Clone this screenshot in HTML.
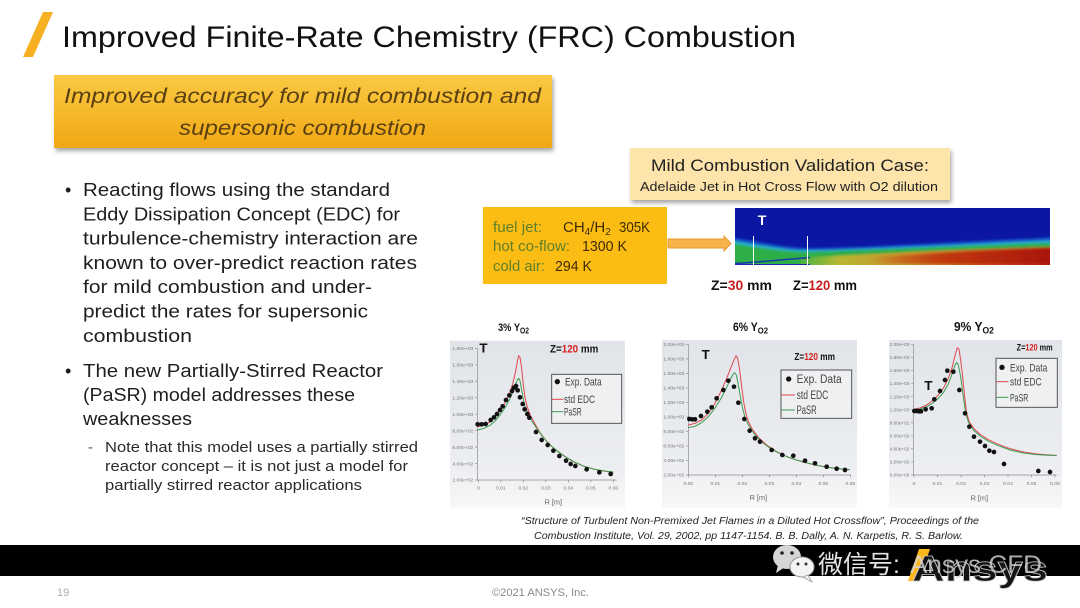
<!DOCTYPE html>
<html><head><meta charset="utf-8">
<style>html,body{margin:0;padding:0;background:#fff;width:1080px;height:608px;overflow:hidden}svg{display:block}</style>
</head><body>
<svg width="1080" height="608" viewBox="0 0 1080 608" xmlns="http://www.w3.org/2000/svg" font-family="'Liberation Sans', sans-serif">
<defs>
  <linearGradient id="gold" x1="0" y1="0" x2="0" y2="1">
    <stop offset="0" stop-color="#fac943"/><stop offset="0.5" stop-color="#f6b92c"/><stop offset="1" stop-color="#f0a713"/>
  </linearGradient>
  <linearGradient id="cbg" x1="0" y1="0" x2="0" y2="1">
    <stop offset="0" stop-color="#e1e4e9"/><stop offset="0.75" stop-color="#eceef1"/><stop offset="1" stop-color="#f8f8f9"/>
  </linearGradient>
  <linearGradient id="core" x1="0" y1="0" x2="1" y2="0">
    <stop offset="0" stop-color="#a8c030" stop-opacity="0.2"/><stop offset="0.15" stop-color="#b8b834"/><stop offset="0.45" stop-color="#cc8c28"/><stop offset="0.75" stop-color="#c85018"/><stop offset="1" stop-color="#b81e0c"/>
  </linearGradient>
  <linearGradient id="red" x1="0" y1="0" x2="1" y2="0">
    <stop offset="0" stop-color="#c03010" stop-opacity="0"/><stop offset="0.4" stop-color="#c0380e"/><stop offset="1" stop-color="#a8140a"/>
  </linearGradient>
  <filter id="sh" x="-5%" y="-10%" width="110%" height="130%">
    <feDropShadow dx="1.5" dy="3" stdDeviation="2" flood-color="#000" flood-opacity="0.35"/>
  </filter>
  <filter id="bl" x="-5%" y="-20%" width="110%" height="140%">
    <feGaussianBlur stdDeviation="1"/>
  </filter>
  <clipPath id="cc"><rect x="735" y="208" width="315" height="57"/></clipPath>
</defs>

<!-- Title -->
<polygon points="43,12 53,12 33,57 23,57" fill="#f6b021"/>
<text x="62" y="47" font-size="30" textLength="734" lengthAdjust="spacingAndGlyphs" fill="#111">Improved Finite-Rate Chemistry (FRC) Combustion</text>

<!-- Orange box -->
<rect x="54" y="75" width="498" height="73" fill="url(#gold)" filter="url(#sh)"/>
<text x="64" y="103" font-size="21" font-style="italic" textLength="477" lengthAdjust="spacingAndGlyphs" fill="#5a4012">Improved accuracy for mild combustion and</text>
<text x="179" y="135" font-size="21" font-style="italic" textLength="247" lengthAdjust="spacingAndGlyphs" fill="#5a4012">supersonic combustion</text>

<!-- Bullets -->
<g font-size="18" fill="#1e1e1e">
  <text x="65" y="196">•</text>
  <text x="83" y="196" textLength="307" lengthAdjust="spacingAndGlyphs">Reacting flows using the standard</text>
  <text x="83" y="220.3" textLength="317" lengthAdjust="spacingAndGlyphs">Eddy Dissipation Concept (EDC) for</text>
  <text x="83" y="244.6" textLength="335" lengthAdjust="spacingAndGlyphs">turbulence-chemistry interaction are</text>
  <text x="83" y="268.9" textLength="334" lengthAdjust="spacingAndGlyphs">known to over-predict reaction rates</text>
  <text x="83" y="293.2" textLength="289" lengthAdjust="spacingAndGlyphs">for mild combustion and under-</text>
  <text x="83" y="317.5" textLength="285" lengthAdjust="spacingAndGlyphs">predict the rates for supersonic</text>
  <text x="83" y="341.8" textLength="109" lengthAdjust="spacingAndGlyphs">combustion</text>
  <text x="65" y="377">•</text>
  <text x="83" y="377" textLength="300" lengthAdjust="spacingAndGlyphs">The new Partially-Stirred Reactor</text>
  <text x="83" y="401" textLength="272" lengthAdjust="spacingAndGlyphs">(PaSR) model addresses these</text>
  <text x="83" y="425" textLength="109" lengthAdjust="spacingAndGlyphs">weaknesses</text>
</g>
<g font-size="14.5" fill="#2a2a2a">
  <text x="88" y="452" fill="#555">-</text>
  <text x="105" y="452" textLength="313" lengthAdjust="spacingAndGlyphs">Note that this model uses a partially stirred</text>
  <text x="105" y="471" textLength="303" lengthAdjust="spacingAndGlyphs">reactor concept – it is not just a model for</text>
  <text x="105" y="490" textLength="257" lengthAdjust="spacingAndGlyphs">partially stirred reactor applications</text>
</g>

<!-- Validation box -->
<rect x="630" y="148" width="320" height="52" fill="#fde4ab" filter="url(#sh)"/>
<text x="790" y="171" font-size="16.5" text-anchor="middle" textLength="278" lengthAdjust="spacingAndGlyphs" fill="#222">Mild Combustion Validation Case:</text>
<text x="789" y="191" font-size="12.5" text-anchor="middle" textLength="298" lengthAdjust="spacingAndGlyphs" fill="#222">Adelaide Jet in Hot Cross Flow with O2 dilution</text>

<!-- Fuel box -->
<rect x="483" y="207" width="184" height="77" fill="#fbbd14"/>
<g font-size="15">
  <text x="493" y="232" fill="#5e7f2a" textLength="49" lengthAdjust="spacingAndGlyphs">fuel jet:</text>
  <text x="563" y="232" fill="#3f2c07">CH<tspan font-size="10" dy="3">4</tspan><tspan dy="-3">/H</tspan><tspan font-size="10" dy="3">2</tspan></text>
  <text x="619" y="232" fill="#3f2c07" textLength="31" lengthAdjust="spacingAndGlyphs">305K</text>
  <text x="493" y="251" fill="#5e7f2a" textLength="77" lengthAdjust="spacingAndGlyphs">hot co-flow:</text>
  <text x="582" y="251" fill="#3f2c07" textLength="45" lengthAdjust="spacingAndGlyphs">1300 K</text>
  <text x="493" y="271" fill="#5e7f2a" textLength="52" lengthAdjust="spacingAndGlyphs">cold air:</text>
  <text x="555" y="271" fill="#3f2c07" textLength="37" lengthAdjust="spacingAndGlyphs">294 K</text>
</g>

<!-- Arrow -->
<path d="M668,239 L724,239 L724,236 L731,243.5 L724,251 L724,248 L668,248 Z" fill="#f7b44c" stroke="#e59a2c" stroke-width="1"/>

<!-- Contour -->
<rect x="735" y="208" width="315" height="57" fill="#0b16a2"/>
<g clip-path="url(#cc)">
  <g filter="url(#bl)">
    <path d="M730,237 C760,242 785,247 805,248 C850,248 950,242 1055,237 L1055,270 L730,270 Z" fill="#1a60d0" opacity="0.8"/>
    <path d="M730,240 C760,245 785,250 805,250 C850,250 950,245 1055,240 L1055,270 L730,270 Z" fill="#28b0c8"/>
    <path d="M730,243 C760,248 785,252 805,252 C850,251 950,246 1055,243 L1055,270 L730,270 Z" fill="#2eae46"/>
    <path d="M800,258 C850,255 940,250 1055,247 L1055,270 L800,270 Z" fill="url(#core)"/>
    <path d="M870,257 C940,253 1000,250 1055,249 L1055,264 C990,264 930,264 870,263 Z" fill="url(#red)"/>
  </g>
  <path d="M735,263.5 C760,262 790,259 810,257.5" stroke="#1a3aa8" stroke-width="1.5" fill="none"/>
  <rect x="735" y="264" width="75" height="2" fill="#1a2aa8"/>
</g>
<line x1="753.5" y1="236" x2="753.5" y2="265" stroke="#fff" stroke-width="1"/>
<line x1="807.5" y1="236" x2="807.5" y2="265" stroke="#fff" stroke-width="1"/>
<text x="762" y="225" font-size="14" font-weight="bold" fill="#fff" text-anchor="middle">T</text>

<text x="711" y="290" font-size="13.5" font-weight="bold" fill="#111" textLength="61" lengthAdjust="spacingAndGlyphs">Z=<tspan fill="#c81e1e">30</tspan> mm</text>
<text x="793" y="290" font-size="13.5" font-weight="bold" fill="#111" textLength="64" lengthAdjust="spacingAndGlyphs">Z=<tspan fill="#c81e1e">120</tspan> mm</text>

<!-- Chart titles -->
<text x="498" y="331" font-size="11" font-weight="bold" fill="#111" textLength="31" lengthAdjust="spacingAndGlyphs">3% Y<tspan font-size="8" dy="2.5">O2</tspan></text>
<text x="733" y="331" font-size="11.5" font-weight="bold" fill="#111" textLength="35" lengthAdjust="spacingAndGlyphs">6% Y<tspan font-size="8.5" dy="2.5">O2</tspan></text>
<text x="954" y="331" font-size="12.5" font-weight="bold" fill="#111" textLength="40" lengthAdjust="spacingAndGlyphs">9% Y<tspan font-size="9" dy="2.5">O2</tspan></text>

<!-- Chart 1 -->
<g transform="translate(440,310) scale(0.33333)">
  <rect x="30" y="92" width="525" height="503" fill="url(#cbg)"/>
  <path d="M112,115 V510 H530" stroke="#8a8a8a" stroke-width="2" fill="none"/>
  <g stroke="#8a8a8a" stroke-width="2">
    <path d="M105,115H112M105,164.4H112M105,213.8H112M105,263.2H112M105,312.6H112M105,362H112M105,411.4H112M105,460.8H112M105,510H112"/>
    <path d="M115,510V517M182.5,510V517M250,510V517M317.5,510V517M385,510V517M452.5,510V517M520,510V517"/>
  </g>
  <g font-size="15" fill="#777" text-anchor="end">
    <text x="100" y="120">1.80e+03</text><text x="100" y="169.4">1.60e+03</text><text x="100" y="218.8">1.40e+03</text>
    <text x="100" y="268.2">1.20e+03</text><text x="100" y="317.6">1.00e+03</text><text x="100" y="367">8.00e+02</text>
    <text x="100" y="416.4">6.00e+02</text><text x="100" y="465.8">4.00e+02</text><text x="100" y="515">2.00e+02</text>
  </g>
  <g font-size="15" fill="#777" text-anchor="middle">
    <text x="115" y="538">0</text><text x="182.5" y="538">0.01</text><text x="250" y="538">0.02</text><text x="317.5" y="538">0.03</text>
    <text x="385" y="538">0.04</text><text x="452.5" y="538">0.05</text><text x="520" y="538">0.06</text>
    <text x="340" y="584" font-size="22" fill="#666">R [m]</text>
  </g>
  <text x="118" y="128" font-size="40" font-weight="bold" fill="#111">T</text>
  <text x="330" y="127" font-size="32" font-weight="bold" fill="#111" textLength="145" lengthAdjust="spacingAndGlyphs">Z=<tspan fill="#d42020">120</tspan> mm</text>
  <rect x="335" y="193" width="210" height="147" fill="#eef0f2" stroke="#555" stroke-width="3"/>
  <circle cx="352" cy="215" r="8" fill="#111"/>
  <text x="375" y="226" font-size="34" fill="#444" textLength="110" lengthAdjust="spacingAndGlyphs">Exp. Data</text>
  <line x1="335" y1="268" x2="370" y2="268" stroke="#e0464e" stroke-width="3"/>
  <text x="372" y="279" font-size="34" fill="#444" textLength="93" lengthAdjust="spacingAndGlyphs">std EDC</text>
  <line x1="335" y1="305" x2="370" y2="305" stroke="#3c9c52" stroke-width="3"/>
  <text x="372" y="316" font-size="34" fill="#444" textLength="53" lengthAdjust="spacingAndGlyphs">PaSR</text>
  <polyline fill="none" stroke="#e0464e" stroke-width="3" stroke-linejoin="round" points="112,350 130,346 150,336 165,322 180,302 195,278 208,252 218,222 226,188 232,155 236,137 240,142 245,175 250,225 255,262 262,292 272,318 285,342 300,368 320,394 345,418 370,436 400,455 430,468 460,477 490,483 520,487"/>
  <polyline fill="none" stroke="#3c9c52" stroke-width="3" stroke-linejoin="round" points="112,360 130,356 150,346 165,333 180,315 195,293 208,270 218,247 226,225 232,210 236,205 240,212 245,240 250,268 256,292 265,312 275,332 288,352 305,376 325,400 350,422 375,440 405,457 435,470 465,478 495,483 520,486"/>
  <g fill="#111">
    <circle cx="113" cy="343" r="7"/><circle cx="125" cy="343" r="7"/><circle cx="137" cy="342" r="7"/><circle cx="152" cy="330" r="7"/>
    <circle cx="162" cy="322" r="7"/><circle cx="171" cy="312" r="7"/><circle cx="180" cy="300" r="7"/><circle cx="188" cy="289" r="7"/>
    <circle cx="198" cy="270" r="7"/><circle cx="208" cy="256" r="7"/><circle cx="216" cy="243" r="7"/><circle cx="222" cy="233" r="7"/>
    <circle cx="228" cy="228" r="7"/><circle cx="233" cy="241" r="7"/><circle cx="240" cy="262" r="7"/><circle cx="248" cy="282" r="7"/>
    <circle cx="254" cy="298" r="7"/><circle cx="262" cy="312" r="7"/><circle cx="268" cy="323" r="7"/><circle cx="288" cy="366" r="7"/>
    <circle cx="305" cy="390" r="7"/><circle cx="323" cy="405" r="7"/><circle cx="340" cy="422" r="7"/><circle cx="358" cy="438" r="7"/>
    <circle cx="378" cy="452" r="7"/><circle cx="392" cy="462" r="7"/><circle cx="406" cy="468" r="7"/><circle cx="440" cy="478" r="7"/>
    <circle cx="478" cy="487" r="7"/><circle cx="512" cy="492" r="7"/>
  </g>
</g>

<!-- Chart 2 -->
<g transform="translate(655,310) scale(0.33333)">
  <rect x="21" y="90" width="585" height="504" fill="url(#cbg)"/>
  <path d="M100,103 V495 H588" stroke="#8a8a8a" stroke-width="2" fill="none"/>
  <g stroke="#8a8a8a" stroke-width="2">
    <path d="M93,103H100M93,146.6H100M93,190.1H100M93,233.7H100M93,277.2H100M93,320.8H100M93,364.3H100M93,407.9H100M93,451.4H100M93,495H100"/>
    <path d="M100,495V502M181,495V502M262,495V502M343,495V502M424,495V502M505,495V502M586,495V502"/>
  </g>
  <g font-size="15" fill="#777" text-anchor="end">
    <text x="88" y="108">2.00e+03</text><text x="88" y="151.6">1.80e+03</text><text x="88" y="195.1">1.60e+03</text>
    <text x="88" y="238.7">1.40e+03</text><text x="88" y="282.2">1.20e+03</text><text x="88" y="325.8">1.00e+03</text>
    <text x="88" y="369.3">8.00e+02</text><text x="88" y="412.9">6.00e+02</text><text x="88" y="456.4">4.00e+02</text>
    <text x="88" y="500">2.00e+02</text>
  </g>
  <g font-size="15" fill="#777" text-anchor="middle">
    <text x="100" y="525">0.00</text><text x="181" y="525">0.01</text><text x="262" y="525">0.02</text><text x="343" y="525">0.03</text>
    <text x="424" y="525">0.04</text><text x="505" y="525">0.05</text><text x="586" y="525">0.06</text>
    <text x="310" y="570" font-size="22" fill="#666">R [m]</text>
  </g>
  <text x="140" y="147" font-size="40" font-weight="bold" fill="#111">T</text>
  <text x="418" y="150" font-size="30" font-weight="bold" fill="#111" textLength="122" lengthAdjust="spacingAndGlyphs">Z=<tspan fill="#d42020">120</tspan> mm</text>
  <rect x="378" y="180" width="212" height="145" fill="#eef0f2" stroke="#555" stroke-width="3"/>
  <circle cx="401" cy="207" r="8" fill="#111"/>
  <text x="425" y="219" font-size="36" fill="#444" textLength="135" lengthAdjust="spacingAndGlyphs">Exp. Data</text>
  <line x1="380" y1="255" x2="420" y2="255" stroke="#e0464e" stroke-width="3"/>
  <text x="425" y="267" font-size="36" fill="#444" textLength="95" lengthAdjust="spacingAndGlyphs">std EDC</text>
  <line x1="380" y1="300" x2="420" y2="300" stroke="#3c9c52" stroke-width="3"/>
  <text x="425" y="312" font-size="36" fill="#444" textLength="60" lengthAdjust="spacingAndGlyphs">PaSR</text>
  <polyline fill="none" stroke="#e0464e" stroke-width="3" stroke-linejoin="round" points="100,345 120,340 140,330 160,310 180,280 200,240 215,205 228,172 238,148 243,137 248,145 254,180 260,230 266,275 272,308 280,335 292,358 310,382 335,405 365,425 400,442 440,455 480,465 520,472 560,477 585,479"/>
  <polyline fill="none" stroke="#3c9c52" stroke-width="3" stroke-linejoin="round" points="100,353 120,349 140,338 160,320 180,294 200,262 215,232 226,208 234,193 239,188 244,195 250,225 257,265 264,300 272,328 283,350 298,372 320,396 350,418 385,436 425,450 465,461 505,470 545,476 585,479"/>
  <g fill="#111">
    <circle cx="103" cy="327" r="7"/><circle cx="112" cy="328" r="7"/><circle cx="120" cy="328" r="7"/><circle cx="138" cy="318" r="7"/>
    <circle cx="157" cy="305" r="7"/><circle cx="170" cy="292" r="7"/><circle cx="185" cy="265" r="7"/><circle cx="205" cy="240" r="7"/>
    <circle cx="220" cy="212" r="7"/><circle cx="237" cy="230" r="7"/><circle cx="250" cy="278" r="7"/><circle cx="268" cy="327" r="7"/>
    <circle cx="284" cy="362" r="7"/><circle cx="300" cy="385" r="7"/><circle cx="315" cy="395" r="7"/><circle cx="350" cy="420" r="7"/>
    <circle cx="382" cy="435" r="7"/><circle cx="415" cy="437" r="7"/><circle cx="450" cy="452" r="7"/><circle cx="480" cy="460" r="7"/>
    <circle cx="515" cy="470" r="7"/><circle cx="545" cy="476" r="7"/><circle cx="570" cy="480" r="7"/>
  </g>
</g>

<!-- Chart 3 -->
<g transform="translate(870,310) scale(0.33333)">
  <rect x="57" y="90" width="519" height="504" fill="url(#cbg)"/>
  <path d="M130,103 V495 H560" stroke="#8a8a8a" stroke-width="2" fill="none"/>
  <g stroke="#8a8a8a" stroke-width="2">
    <path d="M123,103H130M123,142.2H130M123,181.4H130M123,220.6H130M123,259.8H130M123,299H130M123,338.2H130M123,377.4H130M123,416.6H130M123,455.8H130M123,495H130"/>
    <path d="M132,495V502M202.5,495V502M273,495V502M343.5,495V502M414,495V502M484.5,495V502M555,495V502"/>
  </g>
  <g font-size="14" fill="#777" text-anchor="end">
    <text x="118" y="108">2.00e+03</text><text x="118" y="147.2">1.80e+03</text><text x="118" y="186.4">1.60e+03</text>
    <text x="118" y="225.6">1.40e+03</text><text x="118" y="264.8">1.20e+03</text><text x="118" y="304">1.00e+03</text>
    <text x="118" y="343.2">8.00e+02</text><text x="118" y="382.4">6.00e+02</text><text x="118" y="421.6">4.00e+02</text>
    <text x="118" y="460.8">2.00e+02</text><text x="118" y="500">0.00e+00</text>
  </g>
  <g font-size="15" fill="#777" text-anchor="middle">
    <text x="132" y="525">0</text><text x="202.5" y="525">0.01</text><text x="273" y="525">0.02</text><text x="343.5" y="525">0.03</text>
    <text x="414" y="525">0.04</text><text x="484.5" y="525">0.05</text><text x="555" y="525">0.06</text>
    <text x="328" y="572" font-size="22" fill="#666">R [m]</text>
  </g>
  <text x="163" y="240" font-size="40" font-weight="bold" fill="#111">T</text>
  <text x="440" y="121" font-size="28" font-weight="bold" fill="#111" textLength="108" lengthAdjust="spacingAndGlyphs">Z=<tspan fill="#d42020">120</tspan> mm</text>
  <rect x="378" y="145" width="184" height="147" fill="#eef0f2" stroke="#555" stroke-width="3"/>
  <circle cx="396" cy="172" r="8" fill="#111"/>
  <text x="420" y="184" font-size="34" fill="#444" textLength="112" lengthAdjust="spacingAndGlyphs">Exp. Data</text>
  <line x1="380" y1="215" x2="415" y2="215" stroke="#e0464e" stroke-width="3"/>
  <text x="420" y="227" font-size="34" fill="#444" textLength="95" lengthAdjust="spacingAndGlyphs">std EDC</text>
  <line x1="380" y1="262" x2="415" y2="262" stroke="#3c9c52" stroke-width="3"/>
  <text x="420" y="274" font-size="34" fill="#444" textLength="55" lengthAdjust="spacingAndGlyphs">PaSR</text>
  <polyline fill="none" stroke="#e0464e" stroke-width="3" stroke-linejoin="round" points="130,298 150,294 170,285 190,270 205,255 220,235 235,205 247,170 256,133 262,113 267,118 272,150 278,200 284,260 290,310 298,336 312,356 330,373 355,389 385,403 420,416 460,426 500,432 540,435 560,436"/>
  <polyline fill="none" stroke="#3c9c52" stroke-width="3" stroke-linejoin="round" points="130,300 150,297 170,290 190,278 205,265 220,248 235,222 247,190 255,165 260,157 265,165 272,200 280,260 287,310 296,338 310,360 330,378 355,394 385,407 420,420 460,429 500,434 540,436 560,436"/>
  <g fill="#111">
    <circle cx="133" cy="303" r="7"/><circle cx="140" cy="303" r="7"/><circle cx="147" cy="304" r="7"/><circle cx="153" cy="304" r="7"/>
    <circle cx="167" cy="298" r="7"/><circle cx="185" cy="295" r="7"/><circle cx="193" cy="268" r="7"/><circle cx="210" cy="243" r="7"/>
    <circle cx="225" cy="210" r="7"/><circle cx="232" cy="182" r="7"/><circle cx="250" cy="185" r="7"/><circle cx="268" cy="240" r="7"/>
    <circle cx="285" cy="310" r="7"/><circle cx="298" cy="350" r="7"/><circle cx="312" cy="380" r="7"/><circle cx="330" cy="395" r="7"/>
    <circle cx="345" cy="408" r="7"/><circle cx="358" cy="422" r="7"/><circle cx="372" cy="426" r="7"/><circle cx="402" cy="462" r="7"/>
    <circle cx="505" cy="483" r="7"/><circle cx="540" cy="486" r="7"/>
  </g>
</g>

<!-- Citation -->
<text x="521" y="524" font-size="10" font-style="italic" fill="#222" textLength="458" lengthAdjust="spacingAndGlyphs">“Structure of Turbulent Non-Premixed Jet Flames in a Diluted Hot Crossflow”, Proceedings of the</text>
<text x="534" y="539" font-size="10" font-style="italic" fill="#222" textLength="429" lengthAdjust="spacingAndGlyphs">Combustion Institute, Vol. 29, 2002, pp 1147-1154. B. B. Dally, A. N. Karpetis, R. S. Barlow.</text>

<!-- Black bar -->
<rect x="0" y="545" width="1080" height="31" fill="#000"/>

<!-- Watermark -->
<ellipse cx="787" cy="557" rx="14" ry="12" fill="#d6d6d6"/>
<polygon points="778,565 776,573 785,567" fill="#d6d6d6"/>
<circle cx="782" cy="553" r="1.8" fill="#222"/><circle cx="792" cy="553" r="1.8" fill="#222"/>
<ellipse cx="802" cy="567" rx="12" ry="10" fill="#f4f4f4" stroke="#9a9a9a" stroke-width="1"/>
<polygon points="808,575 812,582 803,577" fill="#f4f4f4" stroke="#9a9a9a" stroke-width="0.8"/>
<circle cx="798" cy="564" r="1.5" fill="#333"/><circle cx="806" cy="564" r="1.5" fill="#333"/>
<text x="818" y="573" font-size="25" fill="#e4e4e4" font-family="'Liberation Sans','Noto Sans CJK SC',sans-serif">微信号:</text>
<polygon points="919,549 930,549 919,581 908,581" fill="#ffb81c"/>
<text x="912" y="581" font-size="36" font-weight="bold" fill="#141414" stroke="#c8c8c8" stroke-width="0.8" textLength="136" lengthAdjust="spacingAndGlyphs">Ansys</text>
<text x="910" y="573" font-size="25" fill="#d8d8d8" opacity="0.8" textLength="132" lengthAdjust="spacingAndGlyphs">Ansys CFD</text>

<!-- Footer -->
<text x="57" y="596" font-size="11" fill="#aaa">19</text>
<text x="492" y="596" font-size="11" fill="#888" textLength="97" lengthAdjust="spacingAndGlyphs">©2021 ANSYS, Inc.</text>
</svg>
</body></html>
